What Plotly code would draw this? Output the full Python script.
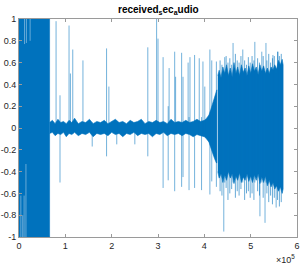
import plotly.graph_objects as go

# ---- data (x in samples, y amplitude) ----
# clipped burst at the start
burst_x = [0, 66000]
burst_hi = [1.0, 1.0]
burst_lo = [-1.0, -1.0]

# light streaks inside the clipped burst (x, from, to)
streak_x = [12000, 16000, 24000, 4000, 8000, 11000, 15000]
streak_from = [1.0, 1.0, 1.0, -1.0, -1.0, -1.0, -1.0]
streak_to = [0.77, 0.78, 0.80, -0.62, -0.80, -0.62, -0.33]

# quiet band in the middle (envelope)
band_x = [66000, 72000, 78000, 84000, 90000, 96000, 102000, 108000, 114000, 120000,
          128000, 136000, 144000, 152000, 160000, 168000, 176000, 184000, 192000, 200000,
          208000, 216000, 224000, 232000, 240000, 248000, 256000, 264000, 272000, 280000,
          288000, 296000, 304000, 312000, 320000, 328000, 336000, 344000, 352000, 360000,
          368000, 376000, 384000, 392000, 400000, 405000, 410000, 414000, 418000, 422000,
          426000, 427000]
band_hi = [0.05, 0.07, 0.04, 0.08, 0.05, 0.06, 0.04, 0.07, 0.05, 0.09,
           0.04, 0.06, 0.05, 0.08, 0.04, 0.06, 0.05, 0.07, 0.04, 0.06,
           0.08, 0.05, 0.06, 0.04, 0.07, 0.05, 0.06, 0.08, 0.04, 0.06,
           0.05, 0.07, 0.05, 0.06, 0.04, 0.08, 0.05, 0.06, 0.05, 0.07,
           0.05, 0.06, 0.08, 0.06, 0.07, 0.09, 0.12, 0.17, 0.23, 0.29,
           0.35, 0.35]
band_lo = [-0.05, -0.04, -0.07, -0.05, -0.06, -0.04, -0.08, -0.05, -0.06, -0.04,
           -0.07, -0.05, -0.06, -0.04, -0.08, -0.05, -0.06, -0.05, -0.07, -0.04,
           -0.06, -0.05, -0.08, -0.05, -0.06, -0.04, -0.07, -0.05, -0.06, -0.05,
           -0.08, -0.05, -0.06, -0.04, -0.07, -0.05, -0.06, -0.05, -0.07, -0.05,
           -0.06, -0.08, -0.06, -0.07, -0.08, -0.10, -0.13, -0.18, -0.23, -0.28,
           -0.32, -0.32]

# loud section at the end (envelope)
loud_x = [429000, 432000, 436000, 440000, 444000, 448000, 452000, 456000, 460000, 464000,
          468000, 472000, 476000, 480000, 484000, 488000, 492000, 496000, 500000, 504000,
          508000, 512000, 516000, 520000, 524000, 528000, 532000, 536000, 540000, 544000,
          548000, 552000, 556000, 560000, 564000, 568000, 570000]
loud_hi = [0.48, 0.53, 0.46, 0.56, 0.50, 0.58, 0.48, 0.55, 0.47, 0.60,
           0.50, 0.56, 0.48, 0.58, 0.51, 0.55, 0.48, 0.57, 0.50, 0.59,
           0.52, 0.56, 0.49, 0.58, 0.52, 0.57, 0.50, 0.55, 0.50, 0.56,
           0.53, 0.58, 0.54, 0.62, 0.58, 0.63, 0.58]
loud_lo = [-0.40, -0.46, -0.42, -0.50, -0.43, -0.48, -0.40, -0.46, -0.42, -0.51,
           -0.44, -0.48, -0.41, -0.50, -0.45, -0.48, -0.42, -0.49, -0.44, -0.50,
           -0.43, -0.48, -0.42, -0.51, -0.45, -0.50, -0.44, -0.53, -0.48, -0.54,
           -0.50, -0.56, -0.53, -0.58, -0.54, -0.60, -0.56]

# isolated spikes (x, top, bottom)
spike_x = [80000, 88500, 108000, 111000, 116000, 138000, 158000, 189000, 194000, 211000,
           250000, 278000, 297000, 300000, 311000, 322000, 324000, 336000, 338000, 351000,
           354000, 365000, 367000, 369000, 379000, 389000, 394000, 397000, 401000, 412000,
           416000, 426000, 442000, 444000, 462000, 483000, 509000, 520000, 524000, 531000,
           533000, 548000, 555000, 559000]
spike_hi = [0.98, 0.30, 0.94, 0.50, 0.72, 0.62, 0.05, 0.73, 0.38, 0.05,
            0.05, 0.74, 1.00, 0.82, 0.65, 0.20, 0.55, 0.70, 0.47, 0.69,
            0.47, 0.60, 0.10, 0.65, 0.67, 0.64, 0.10, 0.61, 0.38, 0.72,
            0.62, 0.61, 0.50, 0.65, 0.78, 0.72, 0.79, 0.50, 0.70, 0.50,
            0.78, 0.67, 0.50, 0.70]
spike_lo = [-0.05, -0.50, -0.05, -0.05, -0.05, -0.05, -0.17, -0.26, -0.05, -0.15,
            -0.15, -0.26, -0.05, -0.05, -0.55, -0.48, -0.05, -0.58, -0.05, -0.54,
            -0.45, -0.05, -0.57, -0.05, -0.55, -0.05, -0.57, -0.05, -0.05, -0.61,
            -0.49, -0.54, -0.95, -0.50, -0.50, -0.50, -0.50, -0.81, -0.50, -0.87,
            -0.50, -0.50, -0.73, -0.50]

# fringe peaks along the edges of the loud section (x, top, bottom)
fringe_x = [434000, 438000, 447000, 451000, 455000, 459000, 467000, 471000, 475000, 479000,
            487000, 491000, 495000, 499000, 503000, 507000, 515000, 519000, 527000, 535000,
            539000, 543000, 547000, 551000, 558000, 562000, 566000]
fringe_hi = [0.62, 0.58, 0.66, 0.60, 0.64, 0.58, 0.68, 0.62, 0.60, 0.66,
             0.62, 0.58, 0.65, 0.60, 0.66, 0.62, 0.64, 0.60, 0.66, 0.62,
             0.68, 0.60, 0.64, 0.66, 0.70, 0.66, 0.68]
fringe_lo = [-0.58, -0.62, -0.55, -0.66, -0.60, -0.56, -0.64, -0.58, -0.62, -0.56,
             -0.66, -0.60, -0.58, -0.64, -0.60, -0.66, -0.58, -0.62, -0.64, -0.60,
             -0.68, -0.62, -0.70, -0.64, -0.66, -0.72, -0.68]

x_tickvals = [0, 100000, 200000, 300000, 400000, 500000, 600000]
x_ticktext = ["0", "1", "2", "3", "4", "5", "6"]
y_tickvals = [-1, -0.8, -0.6, -0.4, -0.2, 0, 0.2, 0.4, 0.6, 0.8, 1]
y_ticktext = ["-1", "-0.8", "-0.6", "-0.4", "-0.2", "0", "0.2", "0.4", "0.6", "0.8", "1"]

BLUE = "#0072BD"

def envelope(xs, hi, lo):
    return list(xs) + list(xs)[::-1], list(hi) + list(lo)[::-1]

def segments(xs, a, b):
    X, Y = [], []
    for x, y0, y1 in zip(xs, a, b):
        X += [x, x, None]
        Y += [y0, y1, None]
    return X, Y

fig = go.Figure()

for xs, hi, lo in [(burst_x, burst_hi, burst_lo), (band_x, band_hi, band_lo), (loud_x, loud_hi, loud_lo)]:
    px, py = envelope(xs, hi, lo)
    fig.add_trace(go.Scatter(x=px, y=py, mode="lines", fill="toself", fillcolor=BLUE,
                             line=dict(color=BLUE, width=0.6), hoverinfo="skip", showlegend=False))

fx, fy = segments(fringe_x, fringe_lo, fringe_hi)
fig.add_trace(go.Scatter(x=fx, y=fy, mode="lines", line=dict(color="rgba(0,114,189,0.6)", width=1),
                         hoverinfo="skip", showlegend=False))

sx, sy = segments(spike_x, spike_lo, spike_hi)
fig.add_trace(go.Scatter(x=sx, y=sy, mode="lines", line=dict(color="rgba(0,114,189,0.55)", width=1),
                         hoverinfo="skip", showlegend=False))

tx, ty = segments(streak_x, streak_from, streak_to)
fig.add_trace(go.Scatter(x=tx, y=ty, mode="lines", line=dict(color="rgba(255,255,255,0.4)", width=1),
                         hoverinfo="skip", showlegend=False))

axis_common = dict(showgrid=False, zeroline=False, showline=True, mirror="ticks",
                   linecolor="#9a9a9a", linewidth=1, ticks="inside", ticklen=3,
                   tickcolor="#9a9a9a", automargin=False,
                   tickfont=dict(family="Liberation Sans, Arial", size=9, color="#262626"))

fig.update_layout(
    width=303, height=268,
    margin=dict(l=19, r=6, t=19, b=31),
    paper_bgcolor="white", plot_bgcolor="white",
    xaxis=dict(range=[0, 600000], tickvals=x_tickvals, ticktext=x_ticktext, **axis_common),
    yaxis=dict(range=[-1, 1], tickvals=y_tickvals, ticktext=y_ticktext, **axis_common),
    annotations=[
        dict(text="<b>received<sub>s</sub>ec<sub>a</sub>udio</b>", xref="paper", yref="paper",
             x=0.5, y=1, yanchor="bottom", yshift=1, showarrow=False,
             font=dict(family="Liberation Sans, Arial", size=10, color="black")),
        dict(text="×10<sup>5</sup>", xref="paper", yref="paper", x=1, y=0, xanchor="right",
             yanchor="top", yshift=-14, showarrow=False,
             font=dict(family="Liberation Sans, Arial", size=9, color="#262626")),
    ],
)

fig.write_html("out.html", config={"displayModeBar": False, "staticPlot": True},
               post_script="document.body.style.margin='0px';document.body.style.overflow='hidden';")
